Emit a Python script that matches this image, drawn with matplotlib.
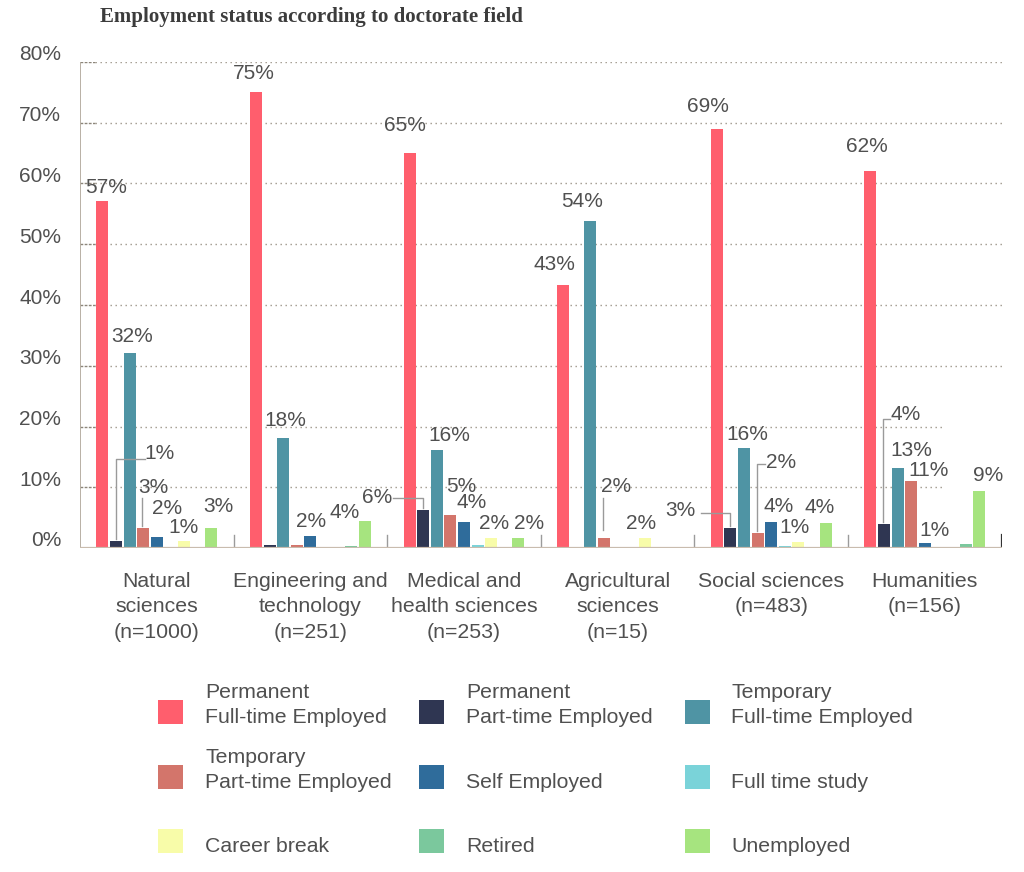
import matplotlib
matplotlib.use("Agg")
import matplotlib.pyplot as plt
from matplotlib.patches import Rectangle

plt.rcParams['font.family'] = ['Liberation Sans', 'DejaVu Sans']

# Fields of doctorate (x categories)
fields = ["Natural\nsciences\n(n=1000)",
          "Engineering and\ntechnology\n(n=251)",
          "Medical and\nhealth sciences\n(n=253)",
          "Agricultural\nsciences\n(n=15)",
          "Social sciences\n(n=483)",
          "Humanities\n(n=156)"]

series_names = ["Permanent\nFull-time Employed", "Permanent\nPart-time Employed",
                "Temporary\nFull-time Employed", "Temporary\nPart-time Employed",
                "Self Employed", "Full time study", "Career break", "Retired",
                "Unemployed"]

# Share of respondents (%) per field
perm_ft = [57.2, 75.0, 65.0, 43.3, 69.0, 62.0]
perm_pt = [1.2, 0.5, 6.2, 0.0, 3.3, 3.9]
temp_ft = [32.1, 18.1, 16.2, 53.8, 16.4, 13.2]
temp_pt = [3.3, 0.5, 5.4, 1.6, 2.4, 11.0]
self_emp = [1.8, 2.0, 4.3, 0.0, 4.3, 0.8]
full_study = [0.0, 0.0, 0.5, 0.0, 0.3, 0.0]
career_break = [1.2, 0.0, 1.6, 1.6, 1.0, 0.0]
retired = [0.0, 0.3, 0.2, 0.0, 0.2, 0.6]
unemployed = [3.3, 4.4, 1.6, 0.0, 4.1, 9.4]

values = [perm_ft, perm_pt, temp_ft, temp_pt, self_emp, full_study,
          career_break, retired, unemployed]

colors = ["#ff5e6d", "#2f3652", "#4f94a4", "#d3756b", "#2f6c9b",
          "#7ad3d9", "#f8fca9", "#7bc89d", "#a6e47f"]

# which bars get a value label, and where the label sits (pixels from bar top)
label_offsets = {
    (0, 0): (4, 13), (0, 1): (44, 87), (0, 2): (3, 16), (0, 3): (10, 40),
    (0, 4): (10, 29), (0, 6): (0, 13), (0, 8): (7, 21),
    (1, 0): (-2, 19), (1, 2): (2, 18), (1, 4): (1, 14), (1, 8): (-20, 9),
    (2, 0): (-5, 28), (2, 1): (-46, 13), (2, 2): (13, 14), (2, 3): (11, 29),
    (2, 4): (8, 19), (2, 6): (3, 15), (2, 8): (11, 15),
    (3, 0): (-9, 20), (3, 2): (-8, 20), (3, 3): (12, 52), (3, 6): (-4, 15),
    (4, 0): (-9, 22), (4, 1): (-50, 17), (4, 2): (3, 14), (4, 3): (23, 71),
    (4, 4): (7, 15), (4, 6): (-4, 14), (4, 8): (-6, 16),
    (5, 0): (-4, 25), (5, 1): (22, 110), (5, 2): (14, 17), (5, 3): (17, 11),
    (5, 4): (10, 13), (5, 8): (9, 15),
}

# leader lines (pixel offsets from bar top)
leaders = {
    (0, 1): [(0, 2), (0, 82), (29, 82)],
    (0, 3): [(-1, 2), (-1, 30)],
    (2, 1): [(0, 2), (0, 12), (-30, 12)],
    (3, 3): [(-1, 8), (-1, 40)],
    (4, 1): [(0, 2), (0, 15), (-29, 15)],
    (4, 3): [(-1, 2), (-1, 69), (7, 69)],
    (5, 1): [(-1, 2), (-1, 105), (6, 105)],
}

W, H = 1024, 872
fig = plt.figure(figsize=(W / 100, H / 100), dpi=100)
ax = fig.add_axes([80 / W, (H - 548) / H, 921.6 / W, 486 / H])
ax.set_xlim(0, 6)
ax.set_ylim(0, 80)
ax.axis('off')

text_col = "#505050"
grid_col = "#9e978b"

slot = 13.6 / 153.6
bw = 12 / 153.6

# gridlines
for v in range(10, 90, 10):
    end = 5.62 if v <= 20 else 6
    ax.plot([0.1, end], [v, v], color=grid_col, lw=1, ls=(0, (1, 2.6)), zorder=1)
    ax.plot([0, 0.1], [v, v], color="#8c857a", lw=1, ls=(0, (2, 1)), zorder=1)
    ax.annotate(f"{v}%", xy=(0, v), xytext=(-19, 7), textcoords='offset pixels',
                ha='right', va='center', fontsize=15, color=text_col)
ax.annotate("0%", xy=(0, 0), xytext=(-19, 7), textcoords='offset pixels',
            ha='right', va='center', fontsize=15, color=text_col)

# axis lines
ax.plot([0, 0], [0, 80], color="#b3aa9e", lw=1.3, zorder=2)
ax.plot([0, 6], [0, 0], color="#c9bcae", lw=1.6, zorder=4)
for g in range(1, 6):
    ax.plot([g, g], [0, 2.1], color="#9b9b9b", lw=1, zorder=2)
ax.plot([6, 6], [0, 2.1], color="#333333", lw=1.6, zorder=2)

# bars
for s in range(9):
    xs = [g + 0.5 + (s - 4) * slot for g in range(6)]
    ax.bar(xs, values[s], width=bw, color=colors[s], zorder=3)

fig.canvas.draw()


def shift(x, y, dx, dy):
    px, py = ax.transData.transform((x, y))
    return ax.transData.inverted().transform((px + dx, py + dy))


for (g, s), (dx, dy) in label_offsets.items():
    x = g + 0.5 + (s - 4) * slot
    y = values[s][g]
    ax.annotate(f"{round(y)}%", xy=(x, y), xytext=(dx, dy),
                textcoords='offset pixels', ha='center', va='center',
                fontsize=15, color=text_col, zorder=5)
    if (g, s) in leaders:
        pts = [shift(x, y, a, b) for a, b in leaders[(g, s)]]
        ax.plot([p[0] for p in pts], [p[1] for p in pts], color="#9a9a9a",
                lw=1, zorder=5, clip_on=False)

# category labels
for g, name in enumerate(fields):
    ax.annotate(name, xy=(g + 0.5, 0), xytext=(0, -24), textcoords='offset pixels',
                ha='center', va='top', fontsize=15.3, color=text_col,
                linespacing=1.42, annotation_clip=False)

# title
fig.text(100 / W, 1 - 17 / H, "Employment status according to doctorate field",
         family=['Liberation Serif'], fontweight='bold', fontsize=15,
         color="#3c3c3c", ha='left', va='center')

# legend
col_sq = [158, 419, 685]
col_tx = [205, 466, 731]
row_y = [712, 777, 841]
for i, name in enumerate(series_names):
    r, c = divmod(i, 3)
    fig.patches.append(Rectangle((col_sq[c] / W, 1 - (row_y[r] + 12) / H),
                                 25 / W, 24 / H, transform=fig.transFigure,
                                 facecolor=colors[i], edgecolor='none'))
    lines = name.split("\n")
    for j, line in enumerate(reversed(lines)):
        fig.text(col_tx[c] / W, 1 - (row_y[r] + 5 - 25 * j) / H, line,
                 fontsize=15.3, color=text_col, ha='left', va='center')

fig.savefig("out.png", dpi=100, facecolor='white')
